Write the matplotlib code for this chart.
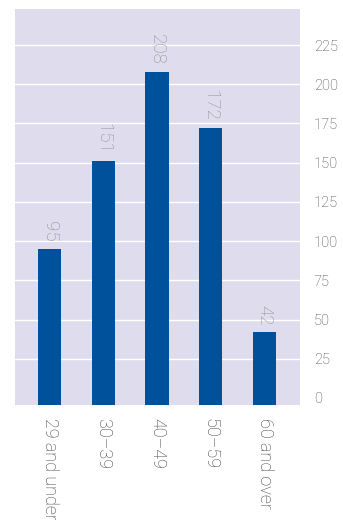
import matplotlib
matplotlib.use("Agg")
import matplotlib.pyplot as plt

# age groups and head counts
groups = ["29 and under", "30\u201339", "40\u201349", "50\u201359", "60 and over"]
counts = [95, 151, 208, 172, 42]
yticks = [0, 25, 50, 75, 100, 125, 150, 175, 200, 225]

plt.rcParams['font.family'] = ['Roboto', 'DejaVu Sans']
plt.rcParams['font.weight'] = 'light'

fig = plt.figure(figsize=(3.43, 5.2), dpi=100)
ax = fig.add_axes([15 / 343, 1 - 405 / 520, 285 / 343, 396 / 520])
ax.set_facecolor('#dfdcee')

ymin, ymax = -4.5, 248
x = list(range(len(groups)))
# bars run down to the bottom edge of the panel
ax.bar(x, [c - ymin for c in counts], bottom=ymin, width=0.43,
       color='#00519b', zorder=3)

for xi, v in zip(x, counts):
    ax.annotate(str(v), (xi, v), xytext=(0, 5), textcoords='offset points',
                rotation=270, ha='center', va='bottom', fontsize=13.5,
                color='#939393', zorder=4)

ax.set_xlim(-0.642, 4.66)
ax.set_ylim(ymin, ymax)
ax.set_yticks(yticks)
ax.set_yticklabels([str(t) for t in yticks])
ax.yaxis.tick_right()
ax.set_xticks(x)
ax.set_xticklabels(groups, rotation=270, ha='center', va='top', fontsize=13)
ax.tick_params(length=0, labelcolor='#444444')
ax.tick_params(axis='y', labelsize=10.5, pad=10)
ax.tick_params(axis='x', pad=9)

for t in yticks[1:]:
    ax.axhline(t, color='white', lw=1, zorder=1)

for s in ax.spines.values():
    s.set_visible(False)

fig.savefig('out.png', dpi=100)
